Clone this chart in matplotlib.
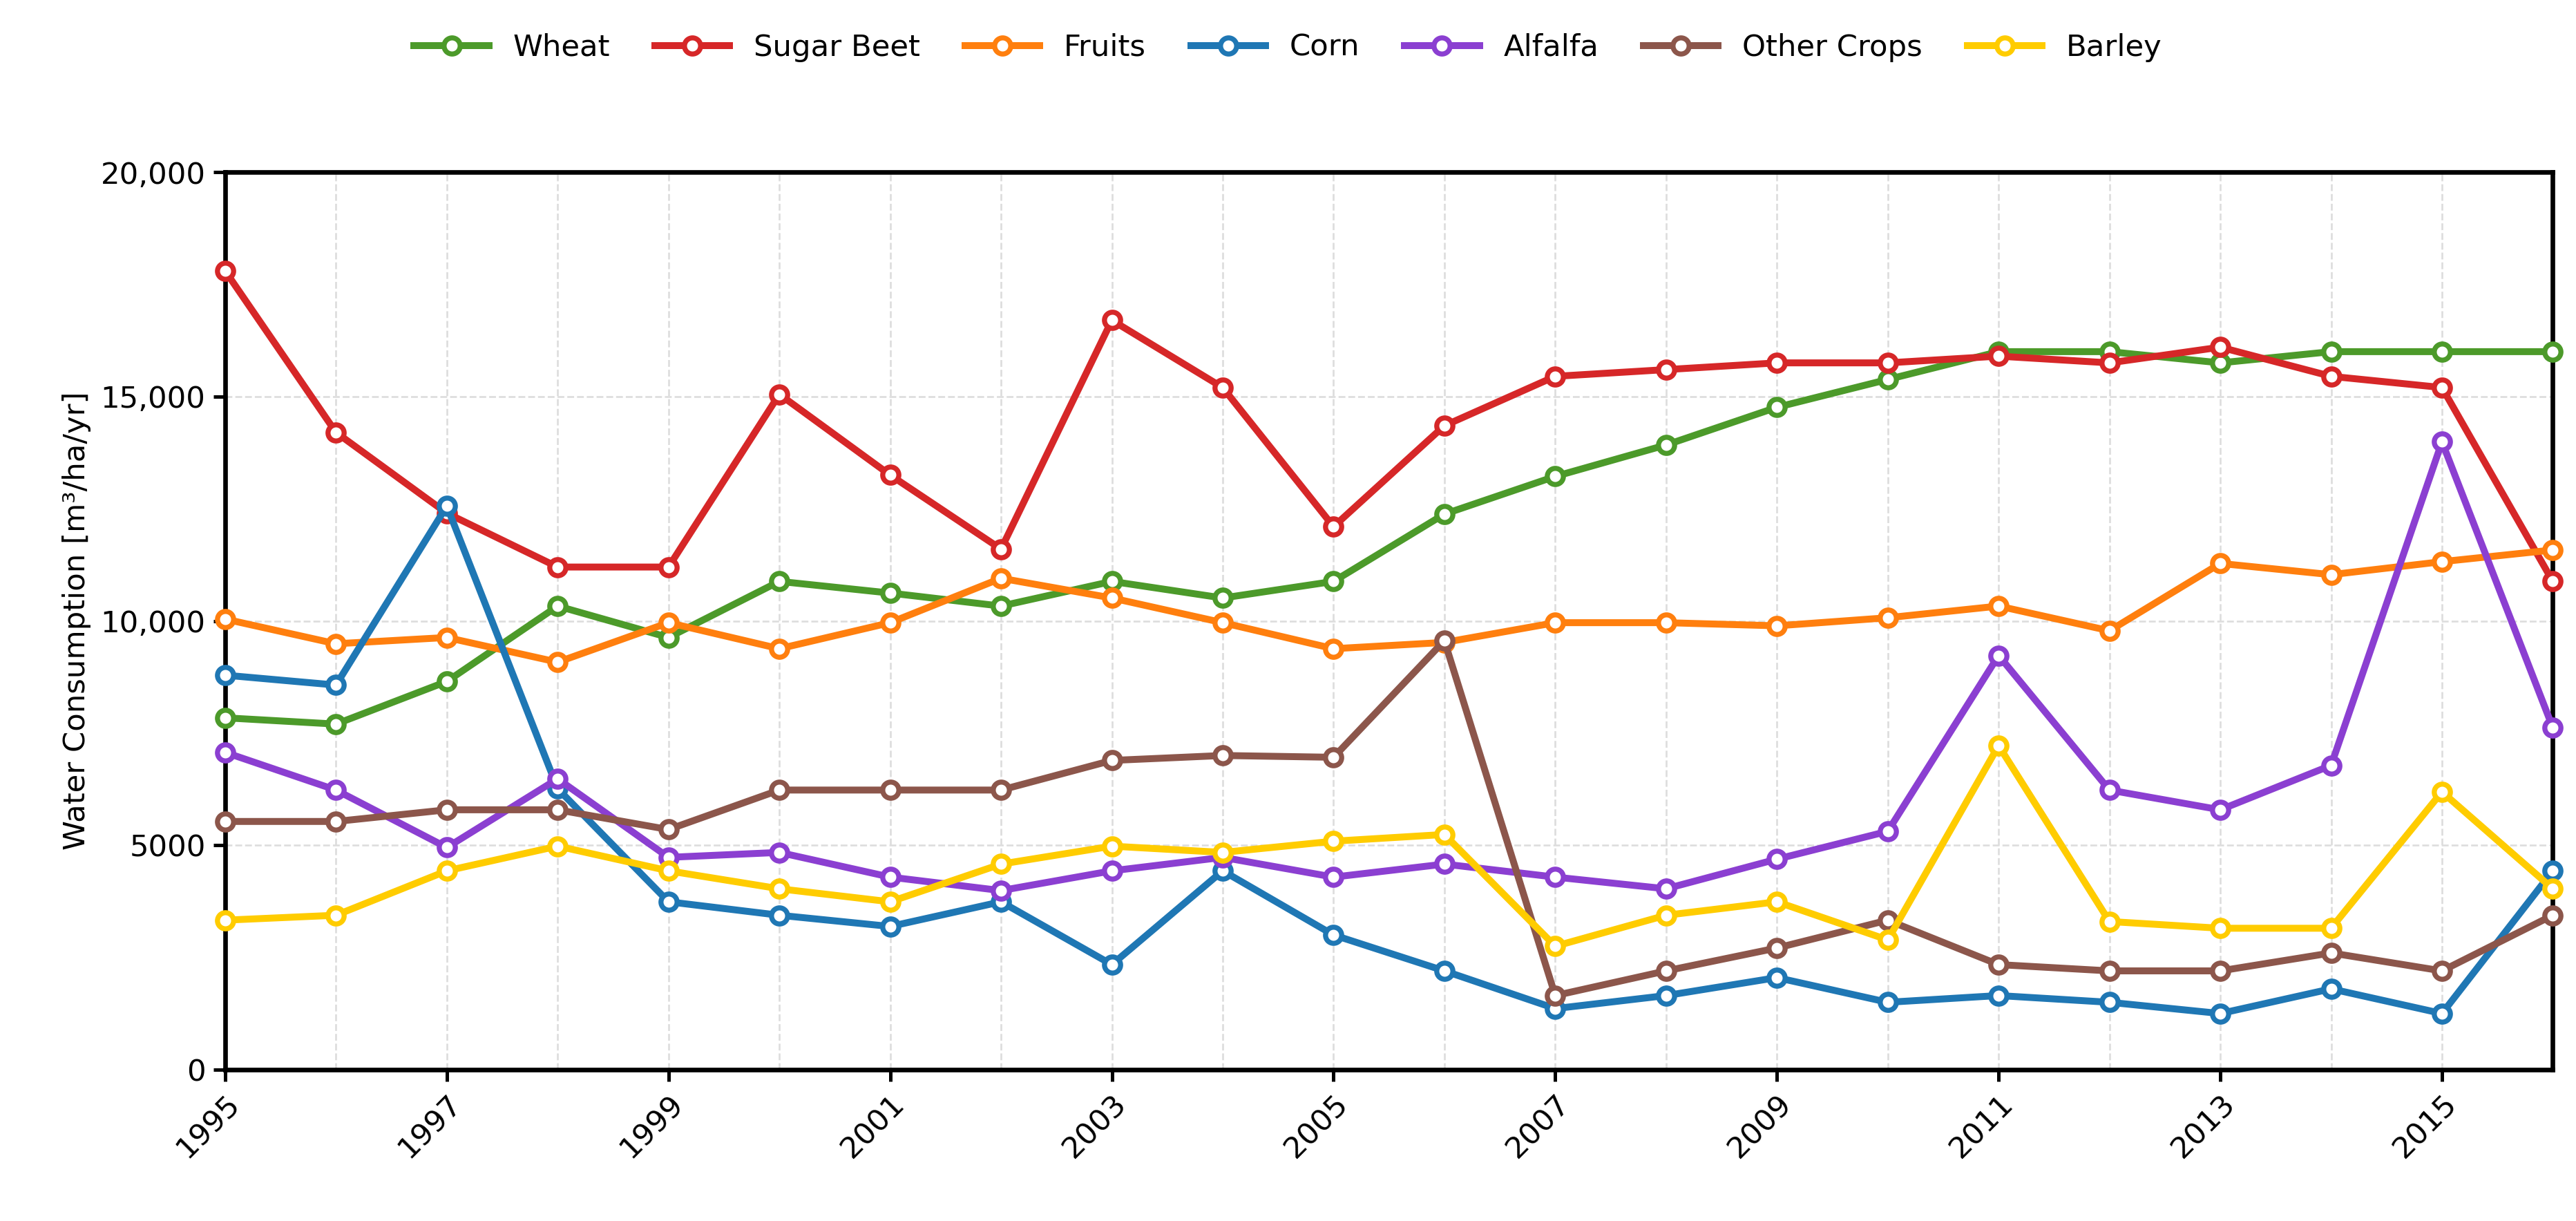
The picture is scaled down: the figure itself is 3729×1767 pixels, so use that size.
import matplotlib
matplotlib.use("Agg")
import matplotlib.pyplot as plt
from matplotlib.ticker import FuncFormatter

years = list(range(1995, 2017))
wheat = [7840,7700,8650,10330,9630,10880,10620,10330,10880,10510,10880,12380,13220,13920,14760,15380,16000,16000,15750,16000,16000,16000]
sugar_beet = [17800,14200,12400,11200,11200,15050,13250,11600,16700,15200,12100,14350,15450,15600,15750,15750,15900,15750,16100,15450,15200,10880]
fruits = [10040,9490,9630,9080,9960,9380,9960,10950,10510,9960,9380,9520,9960,9960,9890,10070,10330,9780,11280,11030,11320,11580]
corn = [8790,8570,12560,6260,3740,3440,3190,3740,2340,4430,3000,2200,1360,1650,2050,1500,1650,1500,1250,1800,1250,4430]
alfalfa = [7070,6230,4950,6480,4730,4840,4290,3990,4430,4730,4290,4580,4290,4030,4690,5310,9230,6230,5790,6780,13990,7620]
other = [5530,5530,5790,5790,5350,6230,6230,6230,6890,7000,6960,9560,1650,2200,2710,3330,2340,2200,2200,2600,2200,3440]
barley = [3330,3440,4430,4980,4430,4030,3740,4580,4980,4840,5090,5240,2750,3440,3740,2890,7220,3300,3150,3150,6190,4030]

series = [("Wheat", wheat, "#4c9a2a"), ("Sugar Beet", sugar_beet, "#d62728"),
          ("Fruits", fruits, "#ff7f0e"), ("Corn", corn, "#1f77b4"),
          ("Alfalfa", alfalfa, "#8b3fd1"), ("Other Crops", other, "#8c564b"),
          ("Barley", barley, "#ffcc00")]

fig = plt.figure(figsize=(15.5375, 7.3625), dpi=240)
ax = fig.add_axes([0.0874, 0.124, 0.9036, 0.735])
for name, vals, c in series:
    ax.plot(years, vals, color=c, lw=3, marker="o", ms=7, mfc="white", mew=2.2, label=name, clip_on=False, zorder=3)

ax.set_xlim(1995, 2016)
ax.set_ylim(0, 20000)
ax.set_xticks(range(1995, 2016, 2))
ax.set_xticks(range(1995, 2017, 1), minor=True)
ax.tick_params(axis="x", which="minor", length=0)
ax.set_yticks([0, 5000, 10000, 15000, 20000])
ax.yaxis.set_major_formatter(FuncFormatter(lambda v, p: f"{int(v):,}" if v >= 10000 else f"{int(v)}"))
plt.setp(ax.get_xticklabels(), rotation=45, ha="right", rotation_mode="anchor")
ax.tick_params(labelsize=13, width=1.5, length=5)
ax.grid(True, which="both", ls="--", lw=0.8, color="#dddddd")
ax.set_axisbelow(True)
for s in ax.spines.values():
    s.set_linewidth(2)
ax.set_ylabel("Water Consumption [m³/ha/yr]", fontsize=13)
fig.legend(loc="upper center", bbox_to_anchor=(0.5, 0.995), ncol=7, frameon=False, fontsize=13,
           handlelength=2.5, columnspacing=1.5)
fig.savefig("out.png", dpi=240)
